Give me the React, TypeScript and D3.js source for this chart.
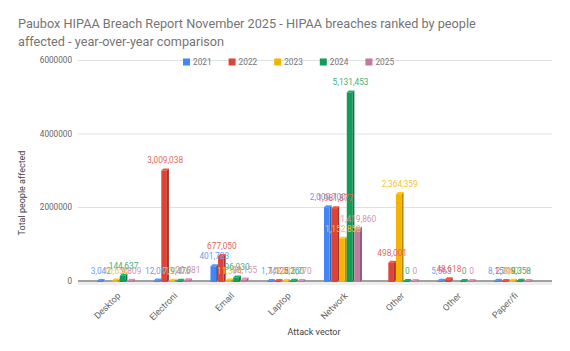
import React from "react";
import * as d3 from "d3";

const categories = ["Desktop", "Electroni", "Email", "Laptop", "Network", "Other", "Other", "Paper/fi"];
const seriesNames = ["2021", "2022", "2023", "2024", "2025"];
const colors = ["#4285f4", "#db4437", "#f4b400", "#0f9d58", "#c27ba0"];
const v2021 = [3042, 12041, 401723, 1742, 2009700, null, 5563, 8153];
const v2022 = [null, 3009038, 677050, 1128, 1981877, 498001, 48618, 2718];
const v2023 = [10654, 7312, 11394, 1515, 1152858, 2364359, null, 9607];
const v2024 = [144637, 9476, 96930, 5260, 5131453, 0, 0, 9358];
const v2025 = [9809, 20081, 38155, 1270, 1419860, 0, 0, 0];
const yTicks = [0, 2000000, 4000000, 6000000];
const title1 = "Paubox HIPAA Breach Report November 2025 - HIPAA breaches ranked by people";
const title2 = "affected - year-over-year comparison";
const xTitle = "Attack vector";
const yTitle = "Total people affected";

const allSeries = [v2021, v2022, v2023, v2024, v2025];

export default function App() {
  const W = 570, H = 351;
  const font = "Roboto, Arial, sans-serif";
  const y = d3.scaleLinear().domain([0, 6000000]).range([281, 60.5]);
  const x0 = d3.scaleBand<number>().domain(categories.map((_, i) => i)).range([87.6, 541.6]);
  const groupW = 38;
  const x1 = d3.scaleBand<number>().domain(seriesNames.map((_, i) => i)).range([0, groupW]);
  const slot = x1.bandwidth();
  const dep = 2;
  const fw = slot - dep;
  const fmt = d3.format(",");
  const base = y(0);

  const bars: any[] = [];
  const labels: any[] = [];
  allSeries.forEach((vals, s) => {
    vals.forEach((v, c) => {
      if (v === null) return;
      const bx = (x0(c) as number) + (x0.bandwidth() - groupW) / 2 + (x1(s) as number);
      const top = y(v as number);
      const col = d3.color(colors[s])!;
      const dark = col.darker(0.8).toString();
      const light = col.brighter(0.4).toString();
      bars.push(
        <g key={`b${s}-${c}`}>
          <polygon
            points={`${bx + fw},${top} ${bx + fw + dep},${top - dep} ${bx + fw + dep},${base + 1 - dep} ${bx + fw},${base + 1}`}
            fill={dark}
          />
          <polygon
            points={`${bx},${top} ${bx + dep},${top - dep} ${bx + fw + dep},${top - dep} ${bx + fw},${top}`}
            fill={light}
          />
          {base + 1 - top > 0 && <rect x={bx} y={top} width={fw} height={base + 1 - top} fill={colors[s]} />}
        </g>
      );
      const lc = d3.interpolateRgb(colors[s], "#ffffff")(0.2);
      labels.push(
        <text key={`l${s}-${c}`} x={bx + slot / 2} y={top - 7} textAnchor="middle" fontSize={8.3} fill={lc} fontFamily={font}>
          {fmt(v as number)}
        </text>
      );
    });
  });

  return (
    <svg width={W} height={H} style={{ position: "absolute", left: 0, top: 0, background: "#fff" }}>
      <rect width={W} height={H} fill="#fff" />
      <text x={18} y={28} fontSize={12.7} fill="#757575" fontFamily={font}>{title1}</text>
      <text x={18} y={46} fontSize={12.7} fill="#757575" fontFamily={font}>{title2}</text>
      {yTicks.map((t) => (
        <g key={t}>
          <line x1={78} x2={552} y1={y(t)} y2={y(t)} stroke="#e0e0e0" strokeWidth={1} />
          <text x={72} y={y(t)} dy="0.35em" textAnchor="end" fontSize={8.2} fill="#666" fontFamily={font}>{t}</text>
        </g>
      ))}
      <rect x={78} y={base} width={474} height={4} fill="#eeeeee" />
      <line x1={78} x2={552} y1={base} y2={base} stroke="#555" strokeWidth={1} />
      {seriesNames.map((s, i) => (
        <g key={s}>
          <rect x={183 + i * 45.6} y={58.5} width={7} height={7} fill={colors[i]} />
          <text x={193 + i * 45.6} y={62} dy="0.35em" fontSize={8.3} fill="#757575" fontFamily={font}>{s}</text>
        </g>
      ))}
      {bars}
      {labels}
      {categories.map((c, i) => {
        const cx = (x0(i) as number) + x0.bandwidth() / 2 + 3;
        const cy = 294;
        return (
          <text key={`x${i}`} x={cx} y={cy} dy="0.35em" textAnchor="end" fontSize={9} fill="#666" fontFamily={font}
            transform={`rotate(-45 ${cx} ${cy})`}>{c}</text>
        );
      })}
      <text x={314} y={332} dy="0.35em" textAnchor="middle" fontSize={9} fill="#444" fontFamily={font}>{xTitle}</text>
      <text x={22} y={193} dy="0.35em" textAnchor="middle" fontSize={9} fill="#444" fontFamily={font}
        transform={`rotate(-90 22 193)`}>{yTitle}</text>
    </svg>
  );
}
